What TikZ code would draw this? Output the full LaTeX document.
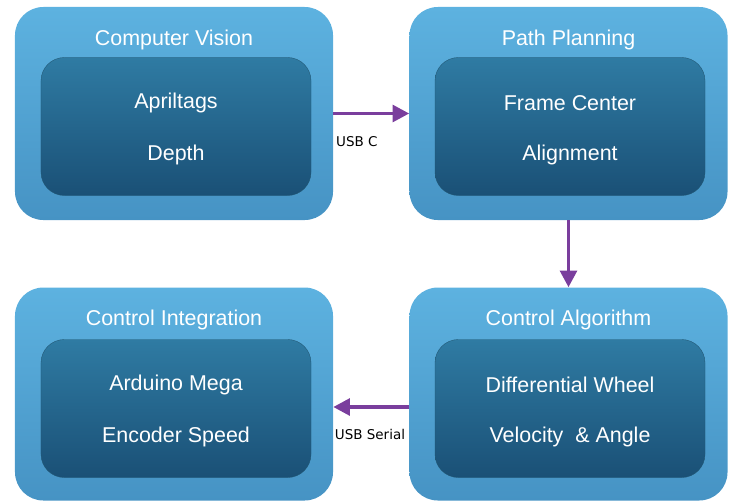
\documentclass[tikz,border=0pt]{standalone}
\usepackage{fontspec}
\setmainfont{Liberation Sans}
\newfontfamily\lblfont{DejaVu Sans}
\usepackage{tikz}
\usetikzlibrary{arrows.meta, positioning}
\definecolor{outertop}{HTML}{5DB2E0}
\definecolor{outerbot}{HTML}{4693C4}
\definecolor{innertop}{HTML}{2F7BA3}
\definecolor{innerbot}{HTML}{1A5076}
\definecolor{linkpurple}{HTML}{7A3E9D}

\begin{document}
\begin{tikzpicture}[x=0.03cm, y=-0.03cm,
    outerbox/.style={rounded corners=0.85cm, top color=outertop, bottom color=outerbot,
      minimum width=9.54cm, minimum height=6.39cm, inner sep=0pt},
    innerbox/.style={rounded corners=0.7cm, top color=innertop, bottom color=innerbot,
      draw=innertop!70!black, line width=0.3pt,
      minimum width=8.1cm, minimum height=4.14cm, inner sep=0pt},
    boxtitle/.style={white, font=\fontsize{18.3}{21}\selectfont},
    boxitem/.style={white, font=\fontsize{18.3}{21}\selectfont},
    link/.style={-{Triangle[length=5mm, width=5mm]}, line width=3.2pt, linkpurple},
    linklabel/.style={black, font=\lblfont\fontsize{11.5}{13}\selectfont}]
  \useasboundingbox (0,0) rectangle (732,502);

  % Computer vision
  \node[outerbox] (cv) at (174,113.5) {};
  \node[innerbox] (cvin) at (176,126.5) {};
  \node[boxtitle] (cvtitle) at (174,40) {Computer Vision};
  \node[boxitem] (april) at (176,103) {Apriltags};
  \node[boxitem] (depth) at (176,155) {Depth};

  % Path planning
  \node[outerbox] (pp) at (568.5,113.5) {};
  \node[innerbox] (ppin) at (570,126.5) {};
  \node[boxtitle] (pptitle) at (568.5,40) {Path Planning};
  \node[boxitem] (frame) at (570,103) {Frame Center};
  \node[boxitem] (align) at (570,155) {Alignment};

  % Control algorithm
  \node[outerbox] (ca) at (568.5,394) {};
  \node[innerbox] (cain) at (570,408.5) {};
  \node[boxtitle] (catitle) at (568.5,320) {Control Algorithm};
  \node[boxitem] (wheel) at (570,385) {Differential Wheel};
  \node[boxitem] (vel) at (570,437) {Velocity~ \& Angle};

  % Control integration
  \node[outerbox] (ci) at (174,394) {};
  \node[innerbox] (ciin) at (176,408.5) {};
  \node[boxtitle] (cititle) at (174,320) {Control Integration};
  \node[boxitem] (mega) at (176,385) {Arduino Mega};
  \node[boxitem] (enc) at (176,437) {Encoder Speed};

  % Links
  \draw[link] (cv.east) -- (pp.west);
  \node[linklabel, right] (usbc) at (332,142) {USB C};
  \draw[link] (pp.south) -- (ca.north);
  \draw[link] (ca.west |- 0,407) -- (ci.east |- 0,407);
  \node[linklabel] (usbser) at (370,434) {USB Serial};
\end{tikzpicture}
\end{document}
